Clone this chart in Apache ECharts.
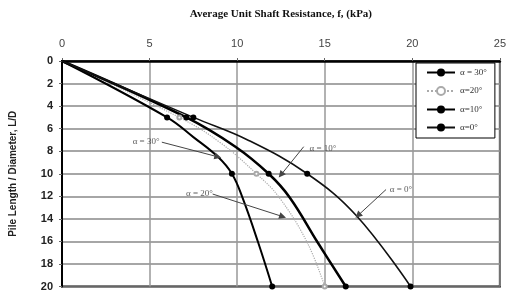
<!DOCTYPE html>
<html>
<head>
<meta charset="utf-8">
<script src="https://cdn.jsdelivr.net/npm/echarts@6/dist/echarts.min.js"></script>
<style>
  html, body { margin: 0; padding: 0; background: #fff; }
  #chart { width: 509px; height: 292px; }
</style>
</head>
<body>
<div id="chart"></div>
<script>
  // [shaft resistance fs (kPa), L/D]
  const alpha30 = [[0, 0], [6, 5], [7.5, 6.75], [8.9, 8.5], [9.7, 10], [10.3, 12.1], [11.2, 16.1], [12, 20]]
  const alpha20 = [[0, 0], [6.7, 5], [9.0, 7.2], [11.1, 10], [12.4, 12.1], [14, 16.1], [15, 20]]
  const alpha10 = [[0, 0], [7.1, 5], [9.9, 7.6], [11.8, 10], [13.0, 12.1], [14.6, 16.1], [16.2, 20]]
  const alpha0 = [[0, 0], [7.5, 5], [10.6, 7], [14, 10], [16.8, 13.7], [19.9, 20]]
  const markerDepths = [5, 10, 20]

  // notes: text, text centre, arrow tail, arrow head (data coordinates)
  const noteLabels = ['α = 30°', 'α = 20°', 'α = 10°', 'α = 0°']
  const noteText = [[4.8, 7.15], [7.85, 11.8], [14.9, 7.8], [19.35, 11.45]]
  const noteFrom = [[5.7, 7.2], [8.6, 11.8], [13.8, 7.6], [18.5, 11.4]]
  const noteTo = [[8.9, 8.5], [12.6, 13.8], [12.5, 10.1], [16.9, 13.7]]

  const chart = echarts.init(document.getElementById('chart'))

  function arrow(i) {
    return {
      silent: true,
      symbol: ['none', 'triangle'],
      symbolSize: 7,
      itemStyle: { color: '#111' },
      lineStyle: { color: '#444', width: 1, type: 'solid' },
      label: { show: false },
      data: [[{ coord: noteFrom[i] }, { coord: noteTo[i] }]]
    }
  }

  function markSize(val) {
    return markerDepths.indexOf(val[1]) >= 0 ? 6 : 0
  }

  chart.setOption({
    animation: false,
    backgroundColor: '#fff',
    grid: {
      left: 61,
      right: 6,
      top: 61,
      bottom: 2,
      show: true,
      borderColor: '#000',
      borderWidth: 2
    },
    legend: {
      orient: 'vertical',
      left: 416,
      top: 63,
      width: 84,
      padding: [5, 8, 6, 10],
      itemWidth: 28,
      itemHeight: 10,
      itemGap: 9,
      backgroundColor: '#fff',
      borderColor: '#000',
      borderWidth: 1,
      textStyle: { fontFamily: 'Liberation Serif', fontSize: 9, color: '#333' },
      data: ['α = 30°', 'α=20°', 'α=10°', 'α=0°']
    },
    xAxis: {
      type: 'value',
      position: 'top',
      min: 0,
      max: 25,
      interval: 5,
      name: 'Average Unit Shaft Resistance, f, (kPa)',
      nameLocation: 'middle',
      nameGap: 41,
      nameTextStyle: { fontFamily: 'Liberation Serif', fontWeight: 'bold', fontSize: 11, color: '#111' },
      axisLine: { lineStyle: { color: '#000', width: 2.5 } },
      axisTick: { show: true, length: 3, lineStyle: { color: '#666' } },
      axisLabel: { margin: 12, fontFamily: 'Liberation Sans', fontSize: 11, color: '#444' },
      splitLine: { lineStyle: { color: '#999', width: 1.5 } }
    },
    yAxis: {
      type: 'value',
      inverse: true,
      min: 0,
      max: 20,
      interval: 2,
      name: 'Pile Length / Diameter, L/D',
      nameLocation: 'middle',
      nameRotate: 90,
      nameGap: 44,
      nameTextStyle: { fontFamily: 'Liberation Sans', fontWeight: 'bold', fontSize: 10, color: '#222' },
      axisLine: { lineStyle: { color: '#000', width: 2 } },
      axisTick: { show: true, length: 3, lineStyle: { color: '#666' } },
      axisLabel: { margin: 9, fontFamily: 'Liberation Sans', fontWeight: 'bold', fontSize: 11, color: '#222' },
      splitLine: { lineStyle: { color: '#888', width: 1.5 } }
    },
    series: [
      {
        name: 'α = 30°',
        type: 'line',
        smooth: 0.4,
        data: alpha30,
        symbol: 'circle',
        symbolSize: markSize,
        itemStyle: { color: '#000' },
        lineStyle: { color: '#000', width: 2 },
        markLine: arrow(0)
      },
      {
        name: 'α=20°',
        type: 'line',
        smooth: 0.4,
        data: alpha20,
        symbol: 'emptyCircle',
        symbolSize: function (val) { return markSize(val) ? 4 : 0 },
        itemStyle: { color: '#aaa' },
        lineStyle: { color: '#aaa', width: 1.2, type: 'dotted' },
        markLine: arrow(1)
      },
      {
        name: 'α=10°',
        type: 'line',
        smooth: 0.4,
        data: alpha10,
        symbol: 'circle',
        symbolSize: markSize,
        itemStyle: { color: '#000' },
        lineStyle: { color: '#000', width: 2.5 },
        markLine: arrow(2)
      },
      {
        name: 'α=0°',
        type: 'line',
        smooth: 0.4,
        data: alpha0,
        symbol: 'circle',
        symbolSize: markSize,
        itemStyle: { color: '#000' },
        lineStyle: { color: '#111', width: 1.6 },
        markLine: arrow(3)
      },
      {
        name: 'notes',
        type: 'scatter',
        silent: true,
        symbolSize: 1,
        itemStyle: { color: 'rgba(0,0,0,0)' },
        label: {
          show: true,
          position: 'inside',
          formatter: function (p) { return noteLabels[p.dataIndex] },
          fontFamily: 'Liberation Serif',
          fontSize: 9,
          color: '#333'
        },
        data: noteText
      }
    ]
  })
</script>
</body>
</html>
